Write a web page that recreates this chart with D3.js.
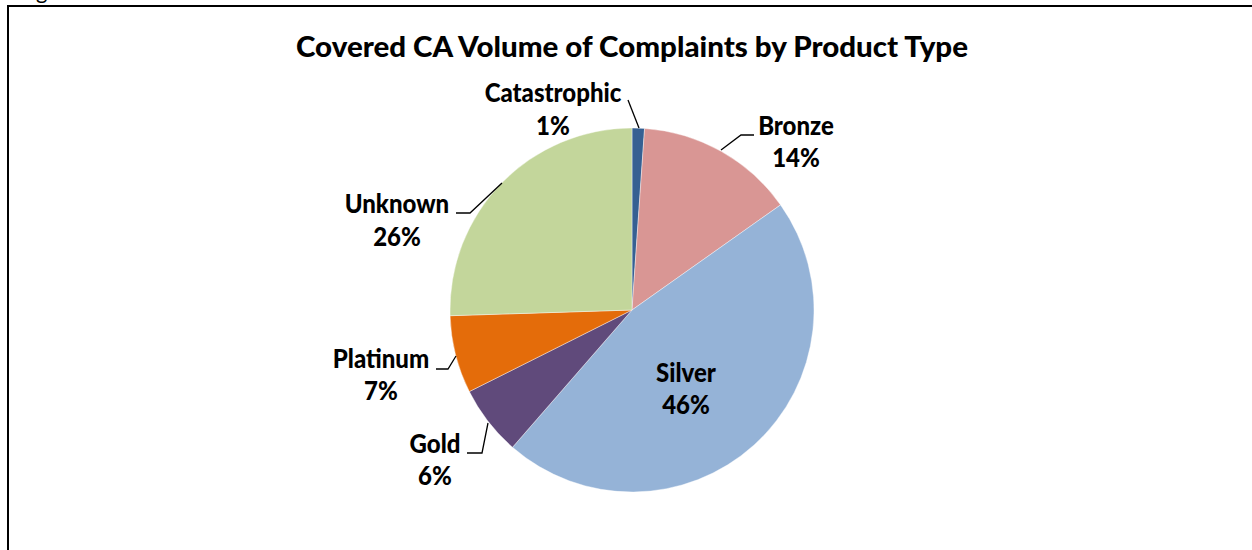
<!DOCTYPE html>
<html>
<head>
<meta charset="utf-8">
<script src="https://cdn.jsdelivr.net/npm/d3@7"></script>
<style>
html,body{margin:0;padding:0;background:#fff;}
svg{display:block;}
text{font-family:Lato,"Open Sans",sans-serif;font-weight:bold;fill:#000;}
</style>
</head>
<body>
<script>
// ---- data ----
const categories = ["Catastrophic","Bronze","Silver","Gold","Platinum","Unknown"];
const shares = [1.1, 14.1, 46.2, 6.2, 6.9, 25.5];
const percentLabels = ["1%","14%","46%","6%","7%","26%"];
const colors = ["#366092","#D99694","#95B3D7","#604A7B","#E46C0A","#C3D69B"];
const title = "Covered CA Volume of Complaints by Product Type";

// ---- layout (label positions / leader lines) ----
const labelLayout = {
  Catastrophic:{x:553, y1:102, y2:135, leader:[[639,128],[628,100]]},
  Bronze:{x:796, y1:135, y2:167, leader:[[721,150],[741,135],[754,135]]},
  Silver:{x:686, y1:382, y2:414, leader:null},
  Gold:{x:435, y1:453, y2:485, leader:[[488,423],[482,453],[467,453]]},
  Platinum:{x:381, y1:368, y2:400, leader:[[456,356],[448,369],[436,369]]},
  Unknown:{x:397, y1:213, y2:246, leader:[[502,183],[470,213],[456,213]]}
};

const W = 1252, H = 550;
const svg = d3.select("body").append("svg").attr("width", W).attr("height", H);

// frame
svg.append("line").attr("x1",8).attr("x2",W).attr("y1",6).attr("y2",6)
  .attr("stroke","#000").attr("stroke-width",2);
svg.append("line").attr("x1",8).attr("x2",8).attr("y1",5).attr("y2",H)
  .attr("stroke","#000").attr("stroke-width",2);
// cut-off caption fragment above frame
svg.append("text").attr("x",36).attr("y",-1).style("font-size","22px").style("font-weight","normal").text("g");

// title
svg.append("text").attr("x",632).attr("y",57).attr("text-anchor","middle")
  .style("font-size","28px").style("font-weight","900")
  .attr("textLength",672).attr("lengthAdjust","spacingAndGlyphs").text(title);

// pie
const cx = 632, cy = 310, R = 182;
const data = categories.map((c,i)=>({cat:c, v:shares[i], pct:percentLabels[i], color:colors[i]}));
const pie = d3.pie().value(d=>d.v).sort(null).startAngle(0).endAngle(2*Math.PI);
const arc = d3.arc().innerRadius(0).outerRadius(R);
const g = svg.append("g").attr("transform",`translate(${cx},${cy})`);
g.selectAll("path").data(pie(data)).enter().append("path")
  .attr("d",arc).attr("fill",d=>d.data.color)
  .attr("stroke","#fff").attr("stroke-width",0.4);

// determine label font size so "Catastrophic" ~138px wide
const probe = svg.append("text").style("font-size","20px").text("Catastrophic");
const w20 = probe.node().getComputedTextLength();
probe.remove();
const fs = Math.min(24, 20*138/w20);
const fsBig = fs*1.08;

// leader lines + labels
const line = d3.line();
function addLabel(x, y, str){
  const el = svg.append("text").attr("x",x).attr("y",y).attr("text-anchor","middle")
    .style("font-size",fs+"px").style("font-weight","900").text(str);
  const natural = el.node().getComputedTextLength();
  el.style("font-size",fsBig+"px").attr("textLength",natural).attr("lengthAdjust","spacingAndGlyphs");
}
data.forEach(d=>{
  const L = labelLayout[d.cat];
  if(L.leader){
    svg.append("path").attr("d",line(L.leader)).attr("fill","none")
      .attr("stroke","#000").attr("stroke-width",1.3);
  }
  addLabel(L.x, L.y1, d.cat);
  addLabel(L.x, L.y2, d.pct);
});
</script>
</body>
</html>
